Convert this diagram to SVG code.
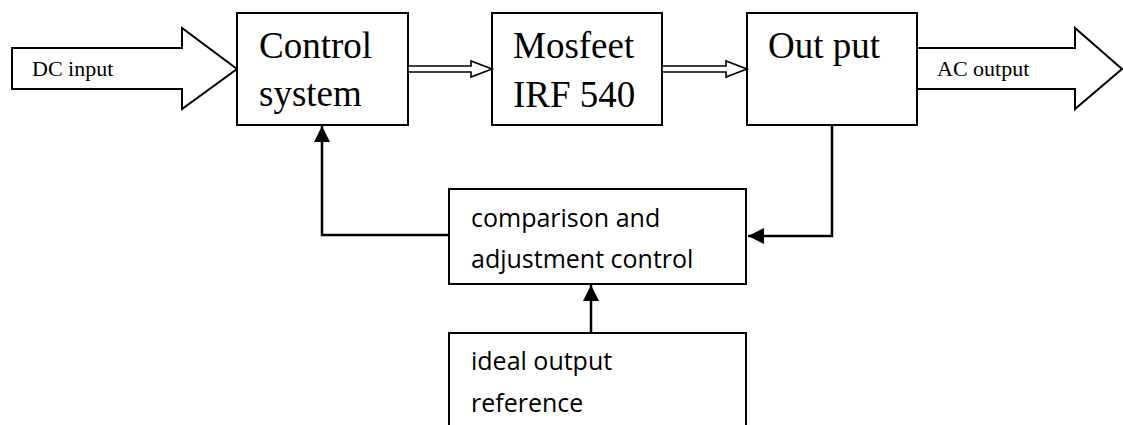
<svg xmlns="http://www.w3.org/2000/svg" width="1123" height="425" viewBox="0 0 1123 425">
<style>
.box{fill:#fff;stroke:#000;stroke-width:2}
.big{fill:#fff;stroke:#000;stroke-width:2}
.thin{fill:#fff;stroke:#000;stroke-width:1.6}
.serif{font-family:"Liberation Serif","Times New Roman",serif;fill:#000}
.sans{font-family:"Open Sans","Noto Sans",sans-serif;fill:#000;font-size:25px}
.fb{fill:none;stroke:#000;stroke-width:2.5}
</style>
<defs>
<marker id="ah" markerUnits="userSpaceOnUse" markerWidth="16" markerHeight="16" viewBox="0 0 16 16" refX="16" refY="8" orient="auto">
<path d="M0,0 L16,8 L0,16 z" fill="#000"/>
</marker>
</defs>
<rect width="1123" height="425" fill="#fff"/>
<g id="dc-input">
<polygon class="big" points="12,48 182,48 182,28 237,69 182,109 182,89 12,89"/>
<text class="serif" x="32" y="76" font-size="22">DC input</text>
</g>
<g id="control-system">
<rect class="box" x="237" y="13" width="171" height="112"/>
<text class="serif" x="259" y="58" font-size="37">Control</text>
<text class="serif" x="259" y="106" font-size="37">system</text>
</g>
<g id="mosfeet">
<rect class="box" x="492" y="13" width="170" height="112"/>
<text class="serif" x="513" y="58" font-size="37">Mosfeet</text>
<text class="serif" x="513" y="107" font-size="37">IRF 540</text>
</g>
<g id="output">
<rect class="box" x="747" y="13" width="170" height="112"/>
<text class="serif" x="768" y="58" font-size="37">Out put</text>
</g>
<g id="ac-output">
<polygon class="big" points="917,48 1075,48 1075,28 1122,69 1075,109 1075,89 917,89"/>
<text class="serif" x="937" y="76" font-size="22">AC output</text>
</g>
<g id="comparison">
<rect class="box" x="449" y="189" width="297" height="95"/>
<text class="sans" x="471" y="227">comparison and</text>
<text class="sans" x="471" y="268">adjustment control</text>
</g>
<g id="ideal-reference">
<rect class="box" x="449" y="333" width="297" height="100"/>
<text class="sans" x="471" y="370">ideal output</text>
<text class="sans" x="471" y="412">reference</text>
</g>
<g id="connectors">
<polygon class="thin" points="408,66 471,66 471,61 492,69 471,77 471,72 408,72"/>
<polygon class="thin" points="662,66 726,66 726,61 747,69 726,77 726,72 662,72"/>
<path class="fb" d="M832,125 L832,236 L748,236" marker-end="url(#ah)"/>
<path class="fb" d="M449,235 L322,235 L322,126" marker-end="url(#ah)"/>
<path class="fb" d="M591,333 L591,285" marker-end="url(#ah)"/>
</g>
</svg>
